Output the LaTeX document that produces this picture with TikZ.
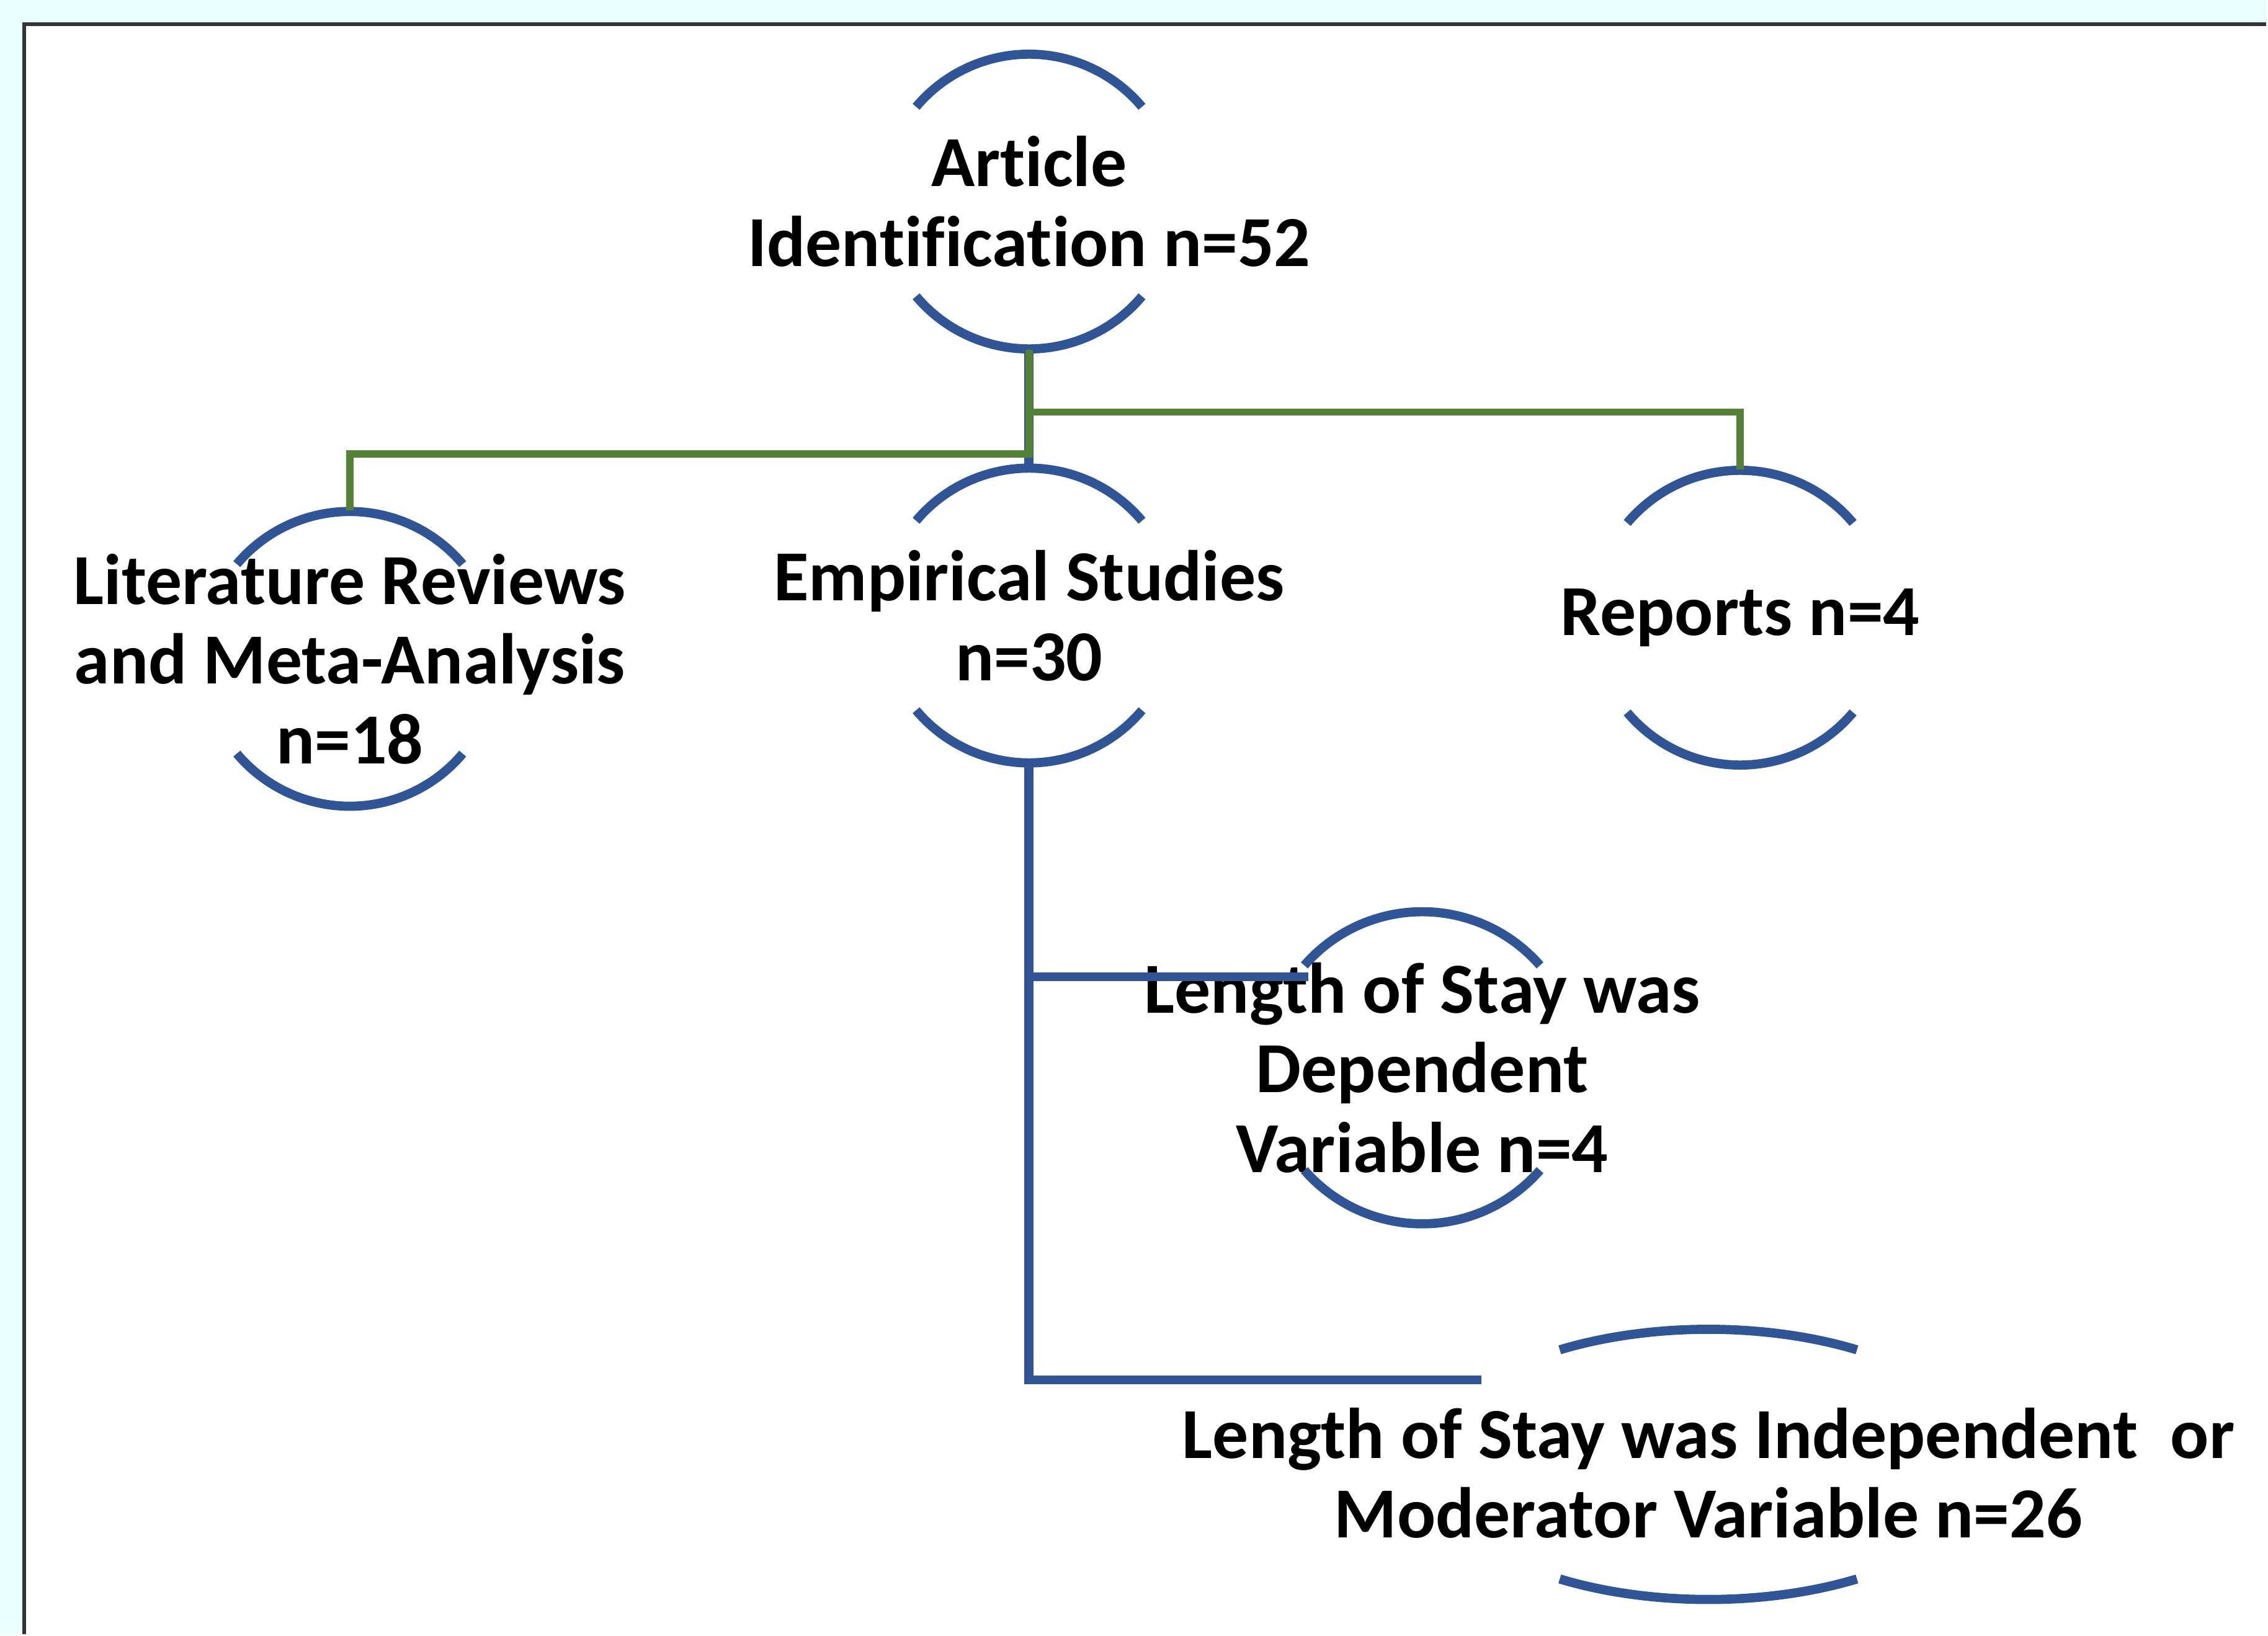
\documentclass[tikz,border=0pt]{standalone}
\usepackage{fontspec}
\setmainfont{Carlito}[Ligatures=NoCommon]
\usepackage{tikz}
\definecolor{arcblue}{HTML}{2F5597}
\definecolor{treegreen}{HTML}{548235}
\definecolor{palecyan}{HTML}{E8FFFF}

\begin{document}
\begin{tikzpicture}[
    box/.style={rectangle,inner sep=0pt,align=center,font=\fontsize{14.15}{15.7}\selectfont\bfseries},
    ring/.style={draw=arcblue,line width=1.8pt},
    link/.style={draw=arcblue,line width=1.8pt},
    branch/.style={draw=treegreen,line width=1.4pt}]
    \fill[palecyan] (0,0) rectangle (15.68,11.31);
    \fill[white] (0.167,0) rectangle (15.68,11.143);
    \draw[black!80,line width=0.7pt] (0.167,0) -- (0.167,11.143) -- (15.68,11.143);

    \node[box,minimum height=2.04cm] (art) at (7.12,9.915) {Article\\Identification n=52};
    \node[box,minimum height=2.04cm] (lit) at (2.42,6.75) {Literature Reviews\\and Meta-Analysis\\n=18};
    \node[box,minimum height=2.04cm] (emp) at (7.12,7.05) {Empirical Studies\\n=30};
    \node[box,minimum height=2.04cm] (rep) at (12.04,7.035) {Reports n=4};
    \node[box,minimum height=2.16cm] (dep) at (9.84,3.92) {Length of Stay was\\Dependent\\Variable n=4};
    \node[box,minimum height=1.87cm] (ind) at (11.82,1.115) {Length of Stay was Independent\ \ or\\Moderator Variable n=26};

    \draw[ring] (art.center) ++(40:1.02) arc (40:140:1.02);
    \draw[ring] (art.center) ++(220:1.02) arc (220:320:1.02);
    \draw[ring] (lit.center) ++(40:1.02) arc (40:140:1.02);
    \draw[ring] (lit.center) ++(220:1.02) arc (220:320:1.02);
    \draw[ring] (emp.center) ++(40:1.02) arc (40:140:1.02);
    \draw[ring] (emp.center) ++(220:1.02) arc (220:320:1.02);
    \draw[ring] (rep.center) ++(40:1.02) arc (40:140:1.02);
    \draw[ring] (rep.center) ++(220:1.02) arc (220:320:1.02);
    \draw[ring] (dep.center) ++(41:1.08) arc (41:139:1.08);
    \draw[ring] (dep.center) ++(221:1.08) arc (221:319:1.08);
    \draw[ring] ([yshift=0.06cm]ind.center) ++(58:1.94cm and 0.935cm) arc[start angle=58,end angle=122,x radius=1.94cm,y radius=0.935cm];
    \draw[ring] ([yshift=0.06cm]ind.center) ++(238:1.94cm and 0.935cm) arc[start angle=238,end angle=302,x radius=1.94cm,y radius=0.935cm];

    \coordinate (dep-in) at ([xshift=-0.79cm,yshift=0.63cm]dep.center);
    \coordinate (ind-in) at ([xshift=-1.57cm,yshift=0.645cm]ind.center);

    \draw[link] (art.south) -- (emp.north);
    \draw[link] (emp.south) |- (dep-in);
    \draw[link] (emp.south) |- (ind-in);

    \draw[branch] (art.south) -- ++(0,-0.72) -| (lit.north);
    \draw[branch] (art.south) -- ++(0,-0.43) -| (rep.north);
\end{tikzpicture}
\end{document}
